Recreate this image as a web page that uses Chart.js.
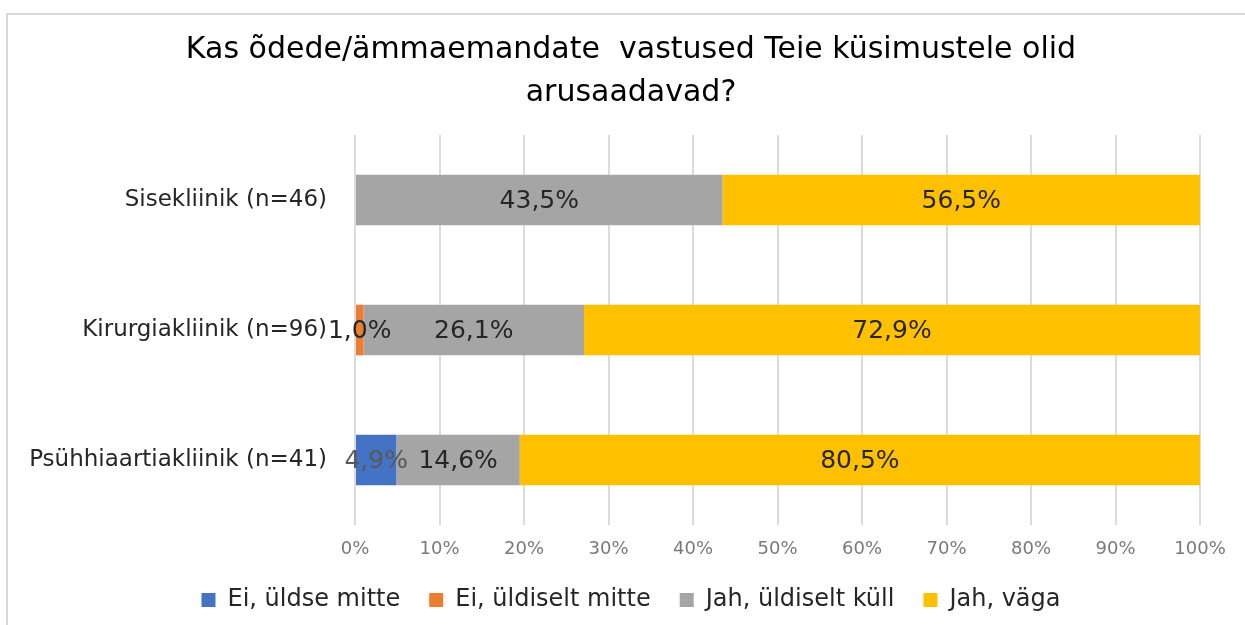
<!DOCTYPE html>
<html>
<head>
<meta charset="utf-8">
<script src="https://cdn.jsdelivr.net/npm/chart.js@4.4.1/dist/chart.umd.min.js"></script>
<style>
  html, body { margin: 0; padding: 0; background: #ffffff; overflow: hidden; }
  #c { display: block; }
</style>
</head>
<body>
<canvas id="c" width="1245" height="625"></canvas>
<script>
const titleLines = ["Kas õdede/ämmaemandate  vastused Teie küsimustele olid", "arusaadavad?"];
const categories = ["Sisekliinik (n=46)", "Kirurgiakliinik (n=96)", "Psühhiaartiakliinik (n=41)"];
const seriesNames = ["Ei, üldse mitte", "Ei, üldiselt mitte", "Jah, üldiselt küll", "Jah, väga"];
const eiUldseMitte = [0, 0, 4.9];
const eiUldiseltMitte = [0, 1.0, 0];
const jahUldiseltKull = [43.5, 26.1, 14.6];
const jahVaga = [56.5, 72.9, 80.5];
const xTickValues = [0, 10, 20, 30, 40, 50, 60, 70, 80, 90, 100];

const FONT = "'DejaVu Sans', Verdana, sans-serif";

const framePlugin = {
  id: 'frame',
  beforeDraw(chart) {
    const ctx = chart.ctx;
    ctx.save();
    ctx.fillStyle = '#ffffff';
    ctx.fillRect(0, 0, chart.width, chart.height);
    ctx.strokeStyle = '#d9d9d9';
    ctx.lineWidth = 2;
    ctx.beginPath();
    ctx.moveTo(7, chart.height);
    ctx.lineTo(7, 14);
    ctx.lineTo(chart.width, 14);
    ctx.stroke();
    ctx.restore();
  }
};

const dataLabelPlugin = {
  id: 'dataLabels',
  afterDatasetsDraw(chart) {
    const ctx = chart.ctx;
    ctx.save();
    ctx.font = "25px " + FONT;
    ctx.textAlign = 'center';
    ctx.textBaseline = 'middle';
    chart.data.datasets.forEach((ds, i) => {
      const meta = chart.getDatasetMeta(i);
      if (meta.hidden) return;
      meta.data.forEach((bar, j) => {
        const v = ds.data[j];
        if (!v) return;
        const p = bar.getCenterPoint();
        ctx.fillStyle = ds.labelColor || '#262626';
        ctx.fillText(v.toFixed(1).replace('.', ',') + '%', p.x, p.y + 1);
      });
    });
    ctx.restore();
  }
};

const colors = ['#4472C4', '#ED7D31', '#A5A5A5', '#FFC000'];
const values = [eiUldseMitte, eiUldiseltMitte, jahUldiseltKull, jahVaga];
const labelColors = ['#595959', '#262626', '#262626', '#262626'];

new Chart(document.getElementById('c'), {
  type: 'bar',
  data: {
    labels: categories,
    datasets: seriesNames.map((name, i) => ({
      label: name,
      data: values[i],
      backgroundColor: colors[i],
      borderWidth: 0,
      categoryPercentage: 1.0,
      barPercentage: 0.39,
      labelColor: labelColors[i]
    }))
  },
  options: {
    indexAxis: 'y',
    responsive: false,
    animation: false,
    devicePixelRatio: 1,
    layout: { padding: { left: 20, right: 3, top: 0, bottom: 3 } },
    plugins: {
      title: {
        display: true,
        text: titleLines,
        color: '#000000',
        font: { family: FONT, size: 30, weight: 'normal', lineHeight: 1.45 },
        padding: { top: 28, bottom: 20 }
      },
      legend: {
        display: true,
        position: 'bottom',
        labels: {
          color: '#262626',
          font: { family: FONT, size: 24 },
          boxWidth: 14,
          boxHeight: 14,
          padding: 29
        }
      },
      tooltip: { enabled: false }
    },
    scales: {
      x: {
        stacked: true,
        min: 0,
        max: 100,
        afterBuildTicks: (scale) => { scale.ticks = xTickValues.map(v => ({ value: v })); },
        ticks: {
          color: '#7a7a7a',
          font: { family: FONT, size: 18, lineHeight: 1.2 },
          padding: 14,
          callback: (v) => v + '%'
        },
        grid: { color: '#dcdcdc', lineWidth: 2, drawTicks: false },
        border: { display: false },
        afterFit: (scale) => { scale.height = 34; }
      },
      y: {
        stacked: true,
        ticks: {
          color: '#262626',
          font: { family: FONT, size: 23 },
          padding: 28
        },
        grid: { display: false, drawTicks: false },
        border: { display: false },
        afterFit: (scale) => { scale.width = 335; }
      },
      yRight: {
        type: 'category',
        position: 'right',
        display: true,
        labels: categories,
        ticks: { display: false },
        grid: { display: false, drawTicks: false },
        border: { display: false },
        afterFit: (scale) => { scale.width = 42; }
      }
    }
  },
  plugins: [framePlugin, dataLabelPlugin]
});
</script>
</body>
</html>
